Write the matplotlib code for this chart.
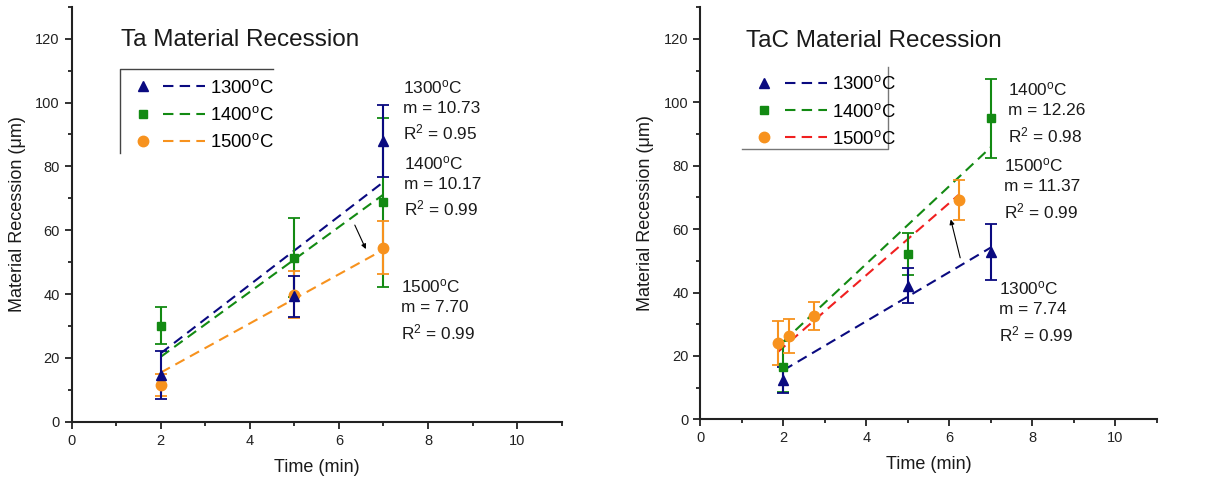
import matplotlib
matplotlib.use("Agg")
import matplotlib.pyplot as plt
from matplotlib.lines import Line2D
from matplotlib.legend_handler import HandlerTuple
from matplotlib.ticker import MultipleLocator

plt.rcParams['font.family'] = ['Liberation Sans', 'DejaVu Sans']
plt.rcParams['mathtext.fontset'] = 'custom'
plt.rcParams['mathtext.rm'] = 'Liberation Sans'
plt.rcParams['mathtext.it'] = 'Liberation Sans:italic'

# temperatures (deg C)
temps = [1300, 1400, 1500]

# Ta samples
ta_time = [2, 5, 7]
ta_1300 = [14.7, 39.3, 88.0]
ta_1300_err = [7.6, 6.5, 11.3]
ta_1400 = [30.1, 51.4, 68.7]
ta_1400_err = [5.7, 12.3, 26.5]
ta_1500 = [11.5, 39.8, 54.5]
ta_1500_err = [3.5, 7.3, 8.3]
ta_slope = [10.73, 10.17, 7.70]
ta_r2 = [0.95, 0.99, 0.99]

# TaC samples
tac_time = [2, 5, 7]
tac_1300 = [12.4, 42.1, 52.9]
tac_1300_err = [4.0, 5.5, 8.8]
tac_1400 = [16.6, 52.2, 95.0]
tac_1400_err = [8.0, 6.7, 12.5]
tac_time_1500 = [1.86, 2.14, 2.74, 6.24]
tac_1500 = [24.0, 26.3, 32.6, 69.2]
tac_1500_err = [7.0, 5.3, 4.5, 6.4]
tac_slope = [7.74, 12.26, 11.37]
tac_r2 = [0.99, 0.98, 0.99]

navy = '#0a0a80'
green = '#138a13'
orange = '#f7921e'
red = '#f02020'
markers = ['^', 's', 'o']
msizes = [7.5, 6.2, 7.5]
txtcol = '#1a1a1a'


def deg(t):
    return str(t) + r'$^{\rm o}$C'


def draw_panel(ax, series, line_colors, title, notes, arrow):
    handles = []
    # plot order: 1400 under the others
    for i in [1, 2, 0]:
        xs, ys, errs, col = series[i]
        ax.errorbar(xs, ys, yerr=errs, fmt=markers[i], color=col, ms=msizes[i],
                    elinewidth=1.5, capsize=4, capthick=1.3, zorder=3)
    for i in range(3):
        xs, ys, errs, col = series[i]
        m = notes[i][1]
        x0, x1 = min(xs), max(xs)
        ax.plot([x0, x1], [m * x0, m * x1], color=line_colors[i], lw=1.5,
                dashes=(5, 3), zorder=2)
        mk = Line2D([], [], marker=markers[i], color=col, ms=msizes[i], ls='none')
        ln = Line2D([], [], color=line_colors[i], lw=1.5, dashes=(5, 3))
        handles.append((mk, ln))

    for t, m, r2, x, y in notes:
        ax.text(x, y, deg(t) + '\nm = %.2f\nR$^2$ = %.2f' % (m, r2),
                fontsize=12.4, color=txtcol, va='top', ha='left', linespacing=1.4)

    ax.annotate('', xy=arrow[1], xytext=arrow[0],
                arrowprops=dict(arrowstyle='-|>', color='black', lw=0.8,
                                mutation_scale=7))

    ax.text(1.1, 119.5, title, fontsize=17.5, color=txtcol, va='center', ha='left')

    ax.set_xlim(0, 11)
    ax.set_ylim(0, 130)
    ax.xaxis.set_major_locator(MultipleLocator(2))
    ax.xaxis.set_minor_locator(MultipleLocator(1))
    ax.yaxis.set_major_locator(MultipleLocator(20))
    ax.yaxis.set_minor_locator(MultipleLocator(10))
    ax.tick_params(which='both', direction='out', width=1.3, colors='#222222',
                   labelsize=10.5)
    ax.tick_params(which='major', length=5)
    ax.tick_params(which='minor', length=3)
    for s in ['top', 'right']:
        ax.spines[s].set_visible(False)
    for s in ['left', 'bottom']:
        ax.spines[s].set_linewidth(1.5)
        ax.spines[s].set_color('#222222')
    ax.set_xlabel('Time (min)', fontsize=13, color=txtcol, labelpad=8)
    ax.set_ylabel('Material Recession (\u03bcm)', fontsize=13, color=txtcol, labelpad=7)
    return handles


fig = plt.figure(figsize=(12.21, 4.82), dpi=100)
ax1 = fig.add_axes([0.0587, 0.125, 0.4013, 0.861])
ax2 = fig.add_axes([0.5736, 0.130, 0.3737, 0.855])

ta_series = [(ta_time, ta_1300, ta_1300_err, navy),
             (ta_time, ta_1400, ta_1400_err, green),
             (ta_time, ta_1500, ta_1500_err, orange)]
ta_notes = [(temps[0], ta_slope[0], ta_r2[0], 7.43, 107.7),
            (temps[1], ta_slope[1], ta_r2[1], 7.45, 83.8),
            (temps[2], ta_slope[2], ta_r2[2], 7.40, 45.2)]
h1 = draw_panel(ax1, ta_series, [navy, green, orange], 'Ta Material Recession',
                ta_notes, ((6.33, 62.4), (6.63, 53.3)))

tac_series = [(tac_time, tac_1300, tac_1300_err, navy),
              (tac_time, tac_1400, tac_1400_err, green),
              (tac_time_1500, tac_1500, tac_1500_err, orange)]
tac_notes = [(temps[0], tac_slope[0], tac_r2[0], 7.19, 44.1),
             (temps[1], tac_slope[1], tac_r2[1], 7.41, 106.9),
             (temps[2], tac_slope[2], tac_r2[2], 7.31, 82.9)]
h2 = draw_panel(ax2, tac_series, [navy, green, red], 'TaC Material Recession',
                tac_notes, ((6.28, 50.1), (6.02, 63.9)))

labels = [deg(t) for t in temps]
for ax, h, anchor in [(ax1, h1, (0.0986, 0.831)), (ax2, h2, (0.0907, 0.839))]:
    ax.legend(h, labels, handler_map={tuple: HandlerTuple(ndivide=None, pad=0)},
              loc='upper left', bbox_to_anchor=anchor, frameon=False,
              fontsize=13.3, handlelength=4.5, handletextpad=0.3,
              labelspacing=0.5, borderpad=0.1, borderaxespad=0)

# partial legend frames, as in the source figure
ax1.plot([0.0986, 0.0986, 0.411], [0.648, 0.849, 0.849], transform=ax1.transAxes,
         color='#444444', lw=1.0, clip_on=False)
ax2.plot([0.0907, 0.412, 0.412], [0.656, 0.656, 0.856], transform=ax2.transAxes,
         color='#777777', lw=1.0, clip_on=False)

fig.savefig('out.png', dpi=100)
